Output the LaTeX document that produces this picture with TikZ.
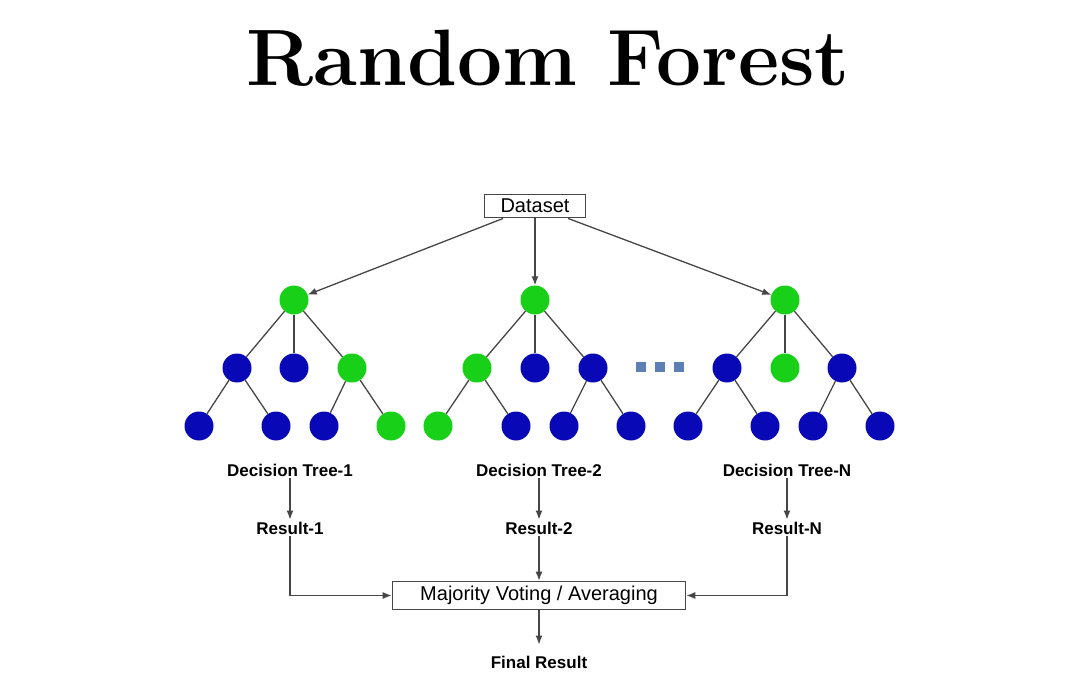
\documentclass[tikz,border=0pt]{standalone}
\usepackage{fontspec}
\setsansfont{Liberation Sans}
\usepackage{tikz}
\usetikzlibrary{arrows,arrows.meta,calc,positioning}

\definecolor{leafgreen}{RGB}{24,208,24}
\definecolor{leafblue}{RGB}{8,8,182}
\definecolor{dotblue}{RGB}{92,128,182}
\definecolor{edgegray}{RGB}{70,70,70}

\begin{document}
\begin{tikzpicture}[x=1pt,y=-1pt,
    yes/.style={circle,fill=leafgreen,minimum size=29pt,inner sep=0pt},
    no/.style={circle,fill=leafblue,minimum size=29pt,inner sep=0pt},
    dotsq/.style={fill=dotblue,minimum size=10pt,inner sep=0pt},
    box/.style={draw=edgegray,line width=1pt,font=\sffamily\fontsize{20}{20}\selectfont,
                inner xsep=16pt,inner ysep=5pt},
    lab/.style={font=\sffamily\bfseries\fontsize{17}{17}\selectfont,inner sep=2pt},
    link/.style={draw=edgegray,line width=1.3pt},
    arr/.style={link,-{Latex[length=9pt,width=7pt]}}]
%
  \useasboundingbox (0,0) rectangle (1080,690) ;
%
  \node (title) [anchor=base] at (548,86)
        {\fontsize{80}{80}\selectfont\bfseries\addfontfeatures{FakeBold=2}Random Forest} ;
%
  \node (ds) [box] at (535,206) {Dataset} ;
%
  % tree 1
  \node (t1)  [yes] at (294,300) {} ;
  \node (t1a) [no]  at (237,368) {} ;
  \node (t1b) [no]  at (294,368) {} ;
  \node (t1c) [yes] at (352,368) {} ;
  \node (t1d) [no]  at (199,426) {} ;
  \node (t1e) [no]  at (276,426) {} ;
  \node (t1f) [no]  at (324,426) {} ;
  \node (t1g) [yes] at (391,426) {} ;
%
  % tree 2
  \node (t2)  [yes] at (535,300) {} ;
  \node (t2a) [yes] at (477,368) {} ;
  \node (t2b) [no]  at (535,368) {} ;
  \node (t2c) [no]  at (593,368) {} ;
  \node (t2d) [yes] at (438,426) {} ;
  \node (t2e) [no]  at (516,426) {} ;
  \node (t2f) [no]  at (564,426) {} ;
  \node (t2g) [no]  at (631,426) {} ;
%
  % tree N
  \node (tn)  [yes] at (785,300) {} ;
  \node (tna) [no]  at (727,368) {} ;
  \node (tnb) [yes] at (785,368) {} ;
  \node (tnc) [no]  at (842,368) {} ;
  \node (tnd) [no]  at (688,426) {} ;
  \node (tne) [no]  at (765,426) {} ;
  \node (tnf) [no]  at (813,426) {} ;
  \node (tng) [no]  at (880,426) {} ;
%
  \node (d1) [dotsq] at (641,367) {} ;
  \node (d2) [dotsq] at (660,367) {} ;
  \node (d3) [dotsq] at (679,367) {} ;
%
  \node (dt1) [lab] at (290,470) {Decision Tree-1} ;
  \node (dt2) [lab] at (539,470) {Decision Tree-2} ;
  \node (dtn) [lab] at (787,470) {Decision Tree-N} ;
%
  \node (res1) [lab] at (290,528) {Result-1} ;
  \node (res2) [lab] at (539,528) {Result-2} ;
  \node (resn) [lab] at (787,528) {Result-N} ;
%
  \node (mv)  [box,inner xsep=28pt] at (539,595.5) {Majority Voting / Averaging} ;
  \node (fin) [lab] at (539,662) {Final Result} ;
%
  \draw [arr] (ds) -- (t1) ;
  \draw [arr] (ds) -- (t2) ;
  \draw [arr] (ds) -- (tn) ;
%
  \draw [link] (t1) -- (t1a) ;
  \draw [link] (t1) -- (t1b) ;
  \draw [link] (t1) -- (t1c) ;
  \draw [link] (t1a) -- (t1d) ;
  \draw [link] (t1a) -- (t1e) ;
  \draw [link] (t1c) -- (t1f) ;
  \draw [link] (t1c) -- (t1g) ;
%
  \draw [link] (t2) -- (t2a) ;
  \draw [link] (t2) -- (t2b) ;
  \draw [link] (t2) -- (t2c) ;
  \draw [link] (t2a) -- (t2d) ;
  \draw [link] (t2a) -- (t2e) ;
  \draw [link] (t2c) -- (t2f) ;
  \draw [link] (t2c) -- (t2g) ;
%
  \draw [link] (tn) -- (tna) ;
  \draw [link] (tn) -- (tnb) ;
  \draw [link] (tn) -- (tnc) ;
  \draw [link] (tna) -- (tnd) ;
  \draw [link] (tna) -- (tne) ;
  \draw [link] (tnc) -- (tnf) ;
  \draw [link] (tnc) -- (tng) ;
%
  \draw [arr] (dt1) -- (res1) ;
  \draw [arr] (dt2) -- (res2) ;
  \draw [arr] (dtn) -- (resn) ;
%
  \draw [arr] (res1) |- (mv.west) ;
  \draw [arr] (res2) -- (mv) ;
  \draw [arr] (resn) |- (mv.east) ;
  \draw [arr,shorten >=9pt] (mv) -- (fin) ;
%
\end{tikzpicture}
\end{document}
